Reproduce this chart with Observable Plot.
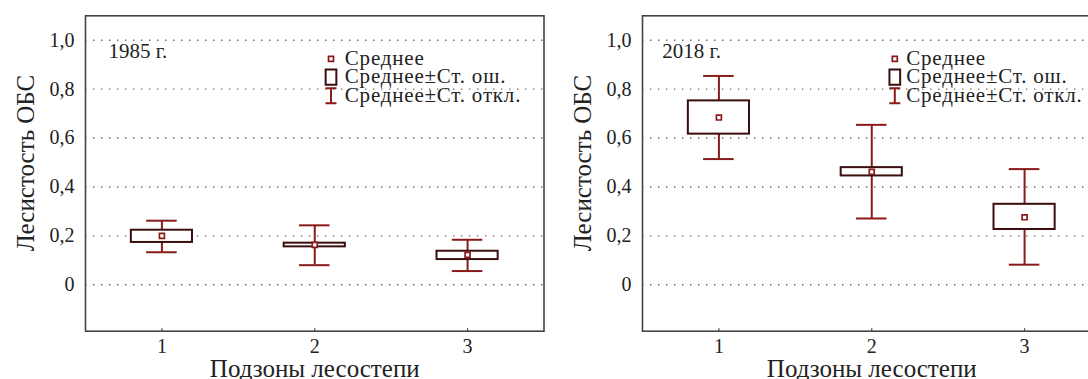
<!DOCTYPE html>
<html>
<head>
<meta charset="utf-8">
<script src="https://cdn.jsdelivr.net/npm/d3@7"></script>
<script src="https://cdn.jsdelivr.net/npm/@observablehq/plot@0.6"></script>
<style>
  html, body { margin: 0; padding: 0; background: #fff; overflow: hidden; }
  #wrap { position: relative; width: 1088px; height: 379px; overflow: hidden; background: #fff; }
  .panel { position: absolute; top: 0; }
  .panel text { font-family: 'Liberation Serif', 'Times New Roman', serif !important; }
</style>
</head>
<body>
<div id="wrap"></div>
<script>
// ---- data ----
const zones = [1, 2, 3];
const xTickLabels = ["1", "2", "3"];
const yTicks = [0, 0.2, 0.4, 0.6, 0.8, 1.0];
const yTickLabels = ["0", "0,2", "0,4", "0,6", "0,8", "1,0"];

const mean1985   = [0.200, 0.163, 0.122];
const seLow1985  = [0.173, 0.155, 0.103];
const seHigh1985 = [0.223, 0.170, 0.137];
const sdLow1985  = [0.133, 0.080, 0.056];
const sdHigh1985 = [0.262, 0.243, 0.184];

const mean2018   = [0.684, 0.462, 0.276];
const seLow2018  = [0.616, 0.445, 0.226];
const seHigh2018 = [0.752, 0.479, 0.329];
const sdLow2018  = [0.514, 0.271, 0.082];
const sdHigh2018 = [0.854, 0.654, 0.473];

const legendLabels = ["Среднее", "Среднее±Ст. ош.", "Среднее±Ст. откл."];
const yTitle = "Лесистость ОБС";
const xTitle = "Подзоны лесостепи";

// ---- styles ----
const RED = "#8b1a1a";
const DARK = "#3a0e0e";
const FONT = "'Liberation Serif', 'Times New Roman', serif";
const W = 560, H = 379;
const MT = 15.3, MB = 48.3;
const yDomain = [-0.19, 1.1];

const boxSymbol = {
  draw(ctx) { const w = 10.7, h = 15.3; ctx.rect(-w / 2, -h / 2, w, h); }
};
const whiskerSymbol = {
  draw(ctx) {
    const w = 11, h = 15;
    ctx.moveTo(-w / 2, -h / 2); ctx.lineTo(w / 2, -h / 2);
    ctx.moveTo(0, -h / 2); ctx.lineTo(0, h / 2);
    ctx.moveTo(-w / 2, h / 2); ctx.lineTo(w / 2, h / 2);
  }
};

function panel(o) {
  const data = zones.map((z, i) => ({
    zone: z, mean: o.mean[i], seLow: o.seLow[i], seHigh: o.seHigh[i],
    sdLow: o.sdLow[i], sdHigh: o.sdHigh[i]
  }));
  const legendRows = [48.7, 67.2, 85.7];
  const txt = { fontFamily: FONT, fill: "#222" };
  const svg = Plot.plot({
    width: W, height: H,
    marginLeft: o.marginLeft, marginRight: o.marginRight,
    marginTop: MT, marginBottom: MB,
    style: { fontFamily: FONT, background: "white", color: "#222", overflow: "visible" },
    x: { domain: [0.5, 3.5] },
    y: { domain: yDomain },
    marks: [
      Plot.ruleY(yTicks, { stroke: "#6a6a6a", strokeWidth: 1.4, strokeDasharray: "1.4,6.6" }),
      Plot.ruleX(data, { x: "zone", y1: "sdLow", y2: "sdHigh", stroke: RED, strokeWidth: 2 }),
      Plot.ruleY(data, { y: "sdLow", x1: d => d.zone - 0.1, x2: d => d.zone + 0.1, stroke: RED, strokeWidth: 2 }),
      Plot.ruleY(data, { y: "sdHigh", x1: d => d.zone - 0.1, x2: d => d.zone + 0.1, stroke: RED, strokeWidth: 2 }),
      Plot.rect(data, { x1: d => d.zone - 0.2, x2: d => d.zone + 0.2, y1: "seLow", y2: "seHigh", fill: "white", stroke: DARK, strokeWidth: 2 }),
      Plot.dot(data, { x: "zone", y: "mean", symbol: "square", r: 2.8, fill: "white", stroke: RED, strokeWidth: 1.7 }),
      Plot.frame({ stroke: "#444", strokeWidth: 1.6 }),
      Plot.ruleX(zones, { y1: yDomain[0], y2: yDomain[0] + 0.01, stroke: "#444", strokeWidth: 1.2 }),
      Plot.axisY(yTicks, { tickSize: 0, tickPadding: 11, fontSize: 20, label: null, ...txt,
        tickFormat: d => yTickLabels[yTicks.indexOf(d)] }),
      Plot.axisX(zones, { tickSize: 0, tickPadding: 8, fontSize: 20, label: null, ...txt,
        tickFormat: d => xTickLabels[zones.indexOf(d)] }),
      Plot.text([xTitle], { text: d => d, frameAnchor: "bottom", lineAnchor: "bottom", dy: 45.5, fontSize: 25, ...txt }),
      Plot.text([yTitle], { text: d => d, frameAnchor: "left", textAnchor: "middle", rotate: -90, lineAnchor: "bottom", dx: o.yTitleDx, dy: -10.5, fontSize: 25, ...txt }),
      Plot.text([o.year], { text: d => d, frameAnchor: "top-left", textAnchor: "start", lineAnchor: "bottom", dx: o.yearDx, dy: 42.4, fontSize: 21, ...txt }),
      // legend
      Plot.dot([0], { frameAnchor: "top-left", dx: o.legDx, dy: 43, symbol: "square", r: 2.8, fill: "white", stroke: RED, strokeWidth: 1.7 }),
      Plot.dot([0], { frameAnchor: "top-left", dx: o.legDx, dy: 61.4, symbol: boxSymbol, fill: "white", stroke: DARK, strokeWidth: 2 }),
      Plot.dot([0], { frameAnchor: "top-left", dx: o.legDx, dy: 79.9, symbol: whiskerSymbol, fill: "none", stroke: RED, strokeWidth: 2 }),
      ...legendLabels.map((t, i) => Plot.text([t], { text: d => d, frameAnchor: "top-left", textAnchor: "start", lineAnchor: "bottom",
        dx: o.legTextDx, dy: legendRows[i], fontSize: 21, ...txt }))
    ]
  });
  d3.select(svg).selectAll("text")
    .filter(function () { return legendLabels.includes(this.textContent); })
    .attr("letter-spacing", "0.8px");
  return svg;
}

const wrap = document.getElementById("wrap");
const left = panel({ mean: mean1985, seLow: seLow1985, seHigh: seHigh1985, sdLow: sdLow1985, sdHigh: sdHigh1985,
  year: "1985 г.", marginLeft: 85, marginRight: 16.5, yTitleDx: -52, yearDx: 23, legDx: 245.5, legTextDx: 259.3 });
left.classList.add("panel"); left.style.left = "0px";
const right = panel({ mean: mean2018, seLow: seLow2018, seHigh: seHigh2018, sdLow: sdLow2018, sdHigh: sdHigh2018,
  year: "2018 г.", marginLeft: 82, marginRight: 19.5, yTitleDx: -52, yearDx: 19.7, legDx: 252.3, legTextDx: 263.7 });
right.classList.add("panel"); right.style.left = "560px";
wrap.appendChild(left);
wrap.appendChild(right);
</script>
</body>
</html>
